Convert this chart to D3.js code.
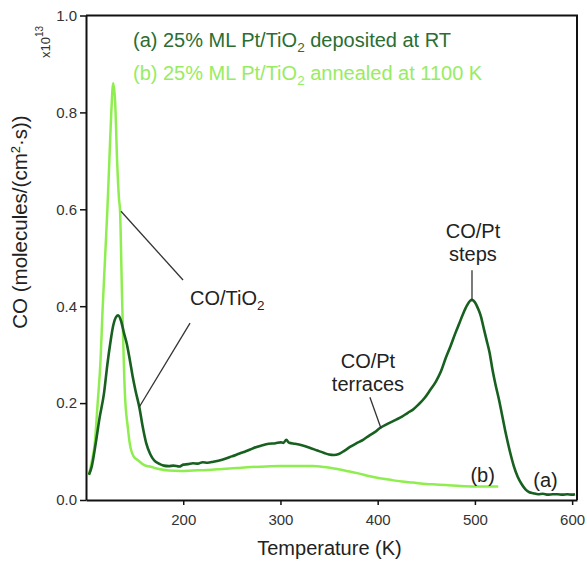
<!DOCTYPE html>
<html>
<head>
<meta charset="utf-8">
<script src="https://cdn.jsdelivr.net/npm/d3@7"></script>
<style>
  body { margin: 0; background: #fff; }
  svg { font-family: "Liberation Sans", Arial, sans-serif; }
</style>
</head>
<body>
<svg id="chart" width="587" height="563"></svg>
<script>
// --- data ------------------------------------------------------------
// (a) 25% ML Pt/TiO2 deposited at RT
const tempA = [103,106,110,114,118.5,122,125,128,131,133,136,139,142,145,148,151,155,158,162,166,170,175,180,185,190,196,200,205,210,215,220,225,231,240,250,258,265,272,280,288,295,300,303,306,309,315,322,330,338,345,350,355,360,366,372,378,385,392,397,402,410,418,425,431,436,442,448,454,460,465,470,475,480,484,488,492,495,497,500,503,506,509,512,515,518,521,525,528,532,536,540,544,548,552,556,560,565,570,575,580,585,590,595,600,603];
const valA  = [0.052,0.07,0.117,0.17,0.22,0.28,0.324,0.36,0.378,0.381,0.37,0.345,0.322,0.29,0.255,0.225,0.19,0.155,0.117,0.095,0.082,0.075,0.071,0.07,0.071,0.069,0.073,0.074,0.076,0.075,0.078,0.077,0.079,0.083,0.09,0.096,0.101,0.107,0.112,0.116,0.117,0.119,0.118,0.124,0.118,0.116,0.113,0.108,0.102,0.097,0.094,0.093,0.095,0.102,0.11,0.117,0.124,0.134,0.14,0.148,0.157,0.165,0.172,0.18,0.186,0.197,0.21,0.227,0.245,0.265,0.293,0.318,0.345,0.365,0.385,0.402,0.411,0.413,0.408,0.396,0.38,0.355,0.33,0.305,0.27,0.24,0.205,0.175,0.135,0.1,0.07,0.048,0.033,0.022,0.016,0.014,0.012,0.013,0.011,0.012,0.012,0.011,0.012,0.011,0.012];

// (b) 25% ML Pt/TiO2 annealed at 1100 K
const tempB = [103,106,109,112,115,117,119.5,122,124,126,128,130,132,134,135,137,140,143,145,149,153.5,160,166,175,185,197,210,225,240,255,270,285,300,315,333,345,355,368,380,392,402,415,425,436,450,460,470,485,500,512,524];
const valB  = [0.052,0.08,0.117,0.2,0.29,0.39,0.495,0.6,0.7,0.8,0.86,0.82,0.7,0.62,0.598,0.426,0.22,0.15,0.117,0.09,0.082,0.072,0.069,0.064,0.061,0.06,0.061,0.062,0.064,0.066,0.068,0.069,0.07,0.07,0.07,0.068,0.065,0.06,0.055,0.049,0.045,0.041,0.038,0.036,0.033,0.032,0.031,0.029,0.028,0.028,0.028];

const xTicks = [200, 300, 400, 500, 600];
const yTicks = [0, 0.2, 0.4, 0.6, 0.8, 1.0];

const legendLabels = [
  ["(a) 25% ML Pt/TiO", "2", " deposited at RT"],
  ["(b) 25% ML Pt/TiO", "2", " annealed at 1100 K"]
];

// --------------------------------------------------------------------
const svg = d3.select("#chart");
const darkGreen  = "#17601f";
const lightGreen = "#8fee4f";

const x = d3.scaleLinear().domain([100, 605]).range([86, 577]);
const y = d3.scaleLinear().domain([0, 1]).range([500, 15.5]);

// frame (top + right)
svg.append("path")
   .attr("d", `M${x.range()[0]},${y(1)}H${x.range()[1]}V${y(0)}`)
   .attr("fill", "none").attr("stroke", "#111").attr("stroke-width", 2);

// axes
const xAxis = svg.append("g")
  .attr("transform", `translate(0,${y(0)})`)
  .call(d3.axisBottom(x).tickValues(xTicks).tickSize(5).tickSizeOuter(0).tickPadding(9));
const yAxis = svg.append("g")
  .attr("transform", `translate(${x.range()[0]},0)`)
  .call(d3.axisLeft(y).tickValues(yTicks).tickFormat(d3.format(".1f")).tickSize(6).tickSizeOuter(0).tickPadding(3));

[xAxis, yAxis].forEach(g => {
  g.select(".domain").attr("stroke", "#111").attr("stroke-width", 2);
  g.selectAll(".tick line").attr("stroke", "#111").attr("stroke-width", 1.5);
  g.selectAll(".tick text").attr("fill", "#333").style("font-size", "15px")
   .style("font-family", "Liberation Sans, Arial, sans-serif");
});

// axis titles
svg.append("text")
   .attr("x", (x.range()[0] + x.range()[1]) / 2 - 2).attr("y", 555)
   .attr("text-anchor", "middle").attr("fill", "#222").style("font-size", "20px")
   .text("Temperature (K)");

const yl = svg.append("text")
   .attr("transform", "translate(27,222) rotate(-90)")
   .attr("text-anchor", "middle").attr("fill", "#222").style("font-size", "20.5px");
yl.append("tspan").text("CO (molecules/(cm");
yl.append("tspan").attr("dy", -7).style("font-size", "13px").text("2");
yl.append("tspan").attr("dy", 7).text("·s))");

const sc = svg.append("text")
   .attr("transform", "translate(50,58) rotate(-90)")
   .attr("fill", "#333").style("font-size", "13px");
sc.append("tspan").text("x10");
sc.append("tspan").attr("dy", -7).style("font-size", "10px").text("13");

// curves
const line = d3.line().x(d => x(d[0])).y(d => y(d[1])).curve(d3.curveMonotoneX);
svg.append("path").datum(d3.zip(tempB, valB))
   .attr("d", line).attr("fill", "none").attr("stroke", lightGreen).attr("stroke-width", 2.5);
svg.append("path").datum(d3.zip(tempA, valA))
   .attr("d", line).attr("fill", "none").attr("stroke", darkGreen).attr("stroke-width", 2.6);

// legend
const legColors = ["#2a6e33", "#97ec62"];
legendLabels.forEach((parts, i) => {
  const t = svg.append("text").attr("x", 133).attr("y", 47 + i * 33)
     .attr("fill", legColors[i]).style("font-size", "20px");
  t.append("tspan").text(parts[0]);
  t.append("tspan").attr("dy", 5).style("font-size", "13.5px").text(parts[1]);
  t.append("tspan").attr("dy", -5).text(parts[2]);
});

// annotations: leader lines in data coordinates
const leaders = [
  [[136, 0.596], [199.8, 0.454]],
  [[154.8, 0.192], [207, 0.365]],
  [[497, 0.474], [497, 0.412]],
  [[392, 0.212], [403.4, 0.148]]
];
svg.selectAll("line.leader").data(leaders).join("line")
   .attr("class", "leader")
   .attr("x1", d => x(d[0][0])).attr("y1", d => y(d[0][1]))
   .attr("x2", d => x(d[1][0])).attr("y2", d => y(d[1][1]))
   .attr("stroke", "#333").attr("stroke-width", 1.3);

const tio = svg.append("text").attr("x", x(207)).attr("y", y(0.402))
   .attr("fill", "#222").style("font-size", "20px");
tio.append("tspan").text("CO/TiO");
tio.append("tspan").attr("dy", 5).style("font-size", "13.5px").text("2");

const notes = [
  { t: 498, v: 0.54,  lines: ["CO/Pt", "steps"] },
  { t: 390, v: 0.273, lines: ["CO/Pt", "terraces"] }
];
notes.forEach(n => {
  svg.append("text").attr("x", x(n.t)).attr("y", y(n.v))
     .attr("text-anchor", "middle").attr("fill", "#222").style("font-size", "20px")
     .selectAll("tspan").data(n.lines).join("tspan")
     .attr("x", x(n.t)).attr("dy", (d, i) => i ? 23 : 0).text(d => d);
});

svg.append("text").attr("x", x(508)).attr("y", y(0.037))
   .attr("text-anchor", "middle").attr("fill", "#222").style("font-size", "20px").text("(b)");
svg.append("text").attr("x", x(572.6)).attr("y", y(0.027))
   .attr("text-anchor", "middle").attr("fill", "#222").style("font-size", "20px").text("(a)");
</script>
</body>
</html>
